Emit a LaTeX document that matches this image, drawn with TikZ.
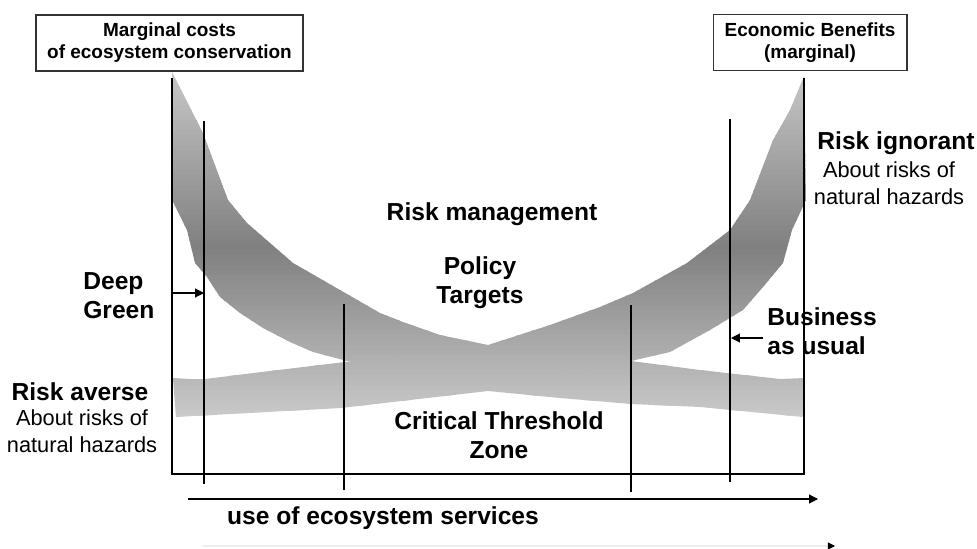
\documentclass[tikz,border=0pt]{standalone}
\usepackage{fontspec}
\setmainfont{Liberation Sans}
\usetikzlibrary{arrows.meta,positioning}
\newcommand\bandfill{%
  \foreach \i in {0,...,70}{
    \pgfmathsetmacro\yy{70+5*\i}
    \pgfmathsetmacro\tone{\yy<245 ? 22+28*(\yy-70)/175 : 50-30*(\yy-245)/175}
    \fill[black!\tone] (160,\yy) rectangle (820,\yy+6);
  }}
\begin{document}
\begin{tikzpicture}[x=0.02cm, y=-0.02cm,
tag/.style={font=\bfseries\fontsize{14}{16.4}\selectfont, align=center, inner sep=0pt},
note/.style={font=\fontsize{12.4}{15.3}\selectfont, align=center, inner sep=0pt},
legend/.style={draw=black!80, line width=0.6pt, font=\bfseries\fontsize{10.8}{12.5}\selectfont, align=center, minimum height=1.12cm},
rule/.style={line width=0.6pt},
arrow/.style={-{Triangle[length=5pt,width=5pt]}, line width=0.6pt}
]
\useasboundingbox (0,0) rectangle (977,548);
\begin{scope}
\clip (172,72) -- (203,133) -- (228,200) -- (247,223) -- (293,263) -- (340,290) -- (380,313) -- (403,322) -- (440,335) -- (488,345) -- (560,353) -- (631,361) -- (700,370) -- (780,379) -- (805,378) -- (803,417) -- (700,407) -- (631,404) -- (560,398) -- (488,391) -- (347,361) -- (313,352) -- (290,342) -- (263,328) -- (240,313) -- (220,297) -- (207,277) -- (195,263) -- (187,230) -- (172,200) -- cycle;
\bandfill
\end{scope}
\begin{scope}
\clip (804,76) -- (790,110) -- (773,140) -- (750,200) -- (730,230) -- (687,263) -- (633,293) -- (600,307) -- (550,325) -- (488,345) -- (420,353) -- (345,362) -- (270,371) -- (205,379) -- (190,379) -- (173,378) -- (176,417) -- (341,408) -- (488,391) -- (631,361) -- (670,352) -- (710,330) -- (743,310) -- (763,287) -- (783,263) -- (792,230) -- (806,200) -- cycle;
\bandfill
\end{scope}
\coordinate (axisTL) at (172,78);
\coordinate (axisBL) at (172,474);
\coordinate (axisBR) at (804,474);
\coordinate (axisTR) at (804,78);
\draw[rule] (axisTL) -- (axisBL) -- (axisBR) -- (axisTR);
\foreach \name/\x/\top/\bot in {deep/204/121/484, left/344/304/490, right/631/305/492, usual/730/119/482}{
  \coordinate (\name T) at (\x,\top);
  \coordinate (\name B) at (\x,\bot);
  \draw[rule] (\name T) -- (\name B);
}
\node[legend, minimum width=5.34cm] (costs) at (169.5,43) {Marginal costs\\of ecosystem conservation};
\node[legend, minimum width=3.88cm] (benefits) at (810,42.5) {Economic Benefits\\(marginal)};
\node[tag] (riskmgmt) at (492,214) {Risk management};
\node[tag] (policy) at (480,282.5) {Policy\\Targets};
\node[tag] (critical) at (499,435.5) {Critical Threshold\\Zone};
\node[tag, align=left, anchor=west] (deepgreen) at (83,296) {Deep\\Green};
\node[tag, align=left, anchor=west] (business) at (767,331) {Business\\as usual};
\node[tag] (averse) at (80,392) {Risk averse};
\node[note] (averseNote) at (82,431.5) {About risks of\\natural hazards};
\node[tag] (ignorant) at (896,143) {Risk ignorant};
\node[note] (ignorantNote) at (889,183.5) {About risks of\\natural hazards};
\node[tag] (services) at (383,518) {use of ecosystem services};
\coordinate (deepFrom) at (172,293);
\coordinate (deepTo) at (204,293);
\coordinate (usualFrom) at (763,338);
\coordinate (usualTo) at (731,338);
\coordinate (useFrom) at (188,499);
\coordinate (useTo) at (818,499);
\coordinate (faintFrom) at (203,546);
\coordinate (faintTo) at (835,546);
\draw[arrow] (deepFrom) -- (deepTo);
\draw[arrow] (usualFrom) -- (usualTo);
\draw[arrow] (useFrom) -- (useTo);
\draw[-{Triangle[length=4pt,width=4pt,color=black]}, line width=0.6pt, black!7] (faintFrom) -- (faintTo);
\end{tikzpicture}
\end{document}
